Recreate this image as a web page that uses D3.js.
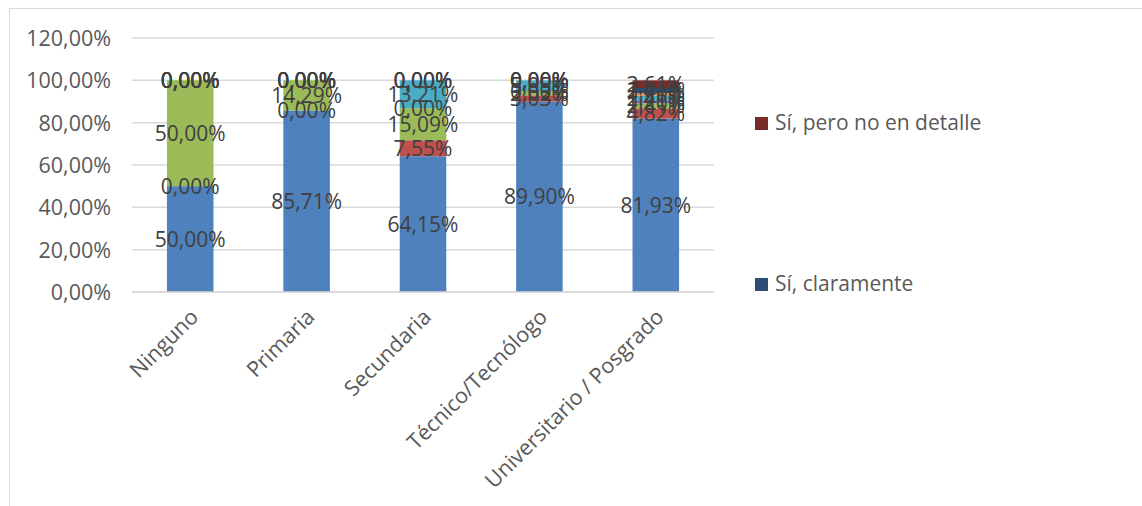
<!DOCTYPE html>
<html>
<head>
<meta charset="utf-8">
<script src="https://cdn.jsdelivr.net/npm/d3@7"></script>
<style>
  html, body { margin: 0; padding: 0; background: #ffffff; }
  svg { display: block; font-family: "Open Sans", "Noto Sans", sans-serif; }
</style>
</head>
<body>
<svg id="chart" width="1142" height="506"></svg>
<script>
// ---- data (percent) ----
const categories = ["Ninguno", "Primaria", "Secundaria", "Técnico/Tecnólogo", "Universitario / Posgrado"];
const serie1 = [50.00, 85.71, 64.15, 89.90, 81.93];
const serie2 = [0.00, 0.00, 7.55, 3.03, 4.82];
const serie3 = [50.00, 14.29, 15.09, 2.02, 2.41];
const serie4 = [0.00, 0.00, 0.00, 0.00, 1.20];
const serie5 = [0.00, 0.00, 13.21, 5.05, 2.41];
const serie6 = [0.00, 0.00, 0.00, 0.00, 1.20];
const siClaramente = [0.00, 0.00, 0.00, 0.00, 2.41];
const siPeroNoDetalle = [0.00, 0.00, 0.00, 0.00, 3.61];
const yTicks = [0, 20, 40, 60, 80, 100, 120];
const legendNames = ["Sí, pero no en detalle", "Sí, claramente"];

const seriesKeys = ["s1", "s2", "s3", "s4", "s5", "s6", "Sí, claramente", "Sí, pero no en detalle"];
const seriesValues = [serie1, serie2, serie3, serie4, serie5, serie6, siClaramente, siPeroNoDetalle];
const colors = ["#4F81BD", "#C0504D", "#9BBB59", "#8064A2", "#4BACC6", "#F79646", "#2C4D75", "#772C2A"];
const legendColors = { "Sí, claramente": "#2C4D75", "Sí, pero no en detalle": "#772C2A" };

const table = categories.map((c, i) => {
  const row = { cat: c };
  seriesKeys.forEach((k, j) => row[k] = seriesValues[j][i]);
  return row;
});

const svg = d3.select("#chart");
const W = 1142, H = 506;

// chart border
svg.append("rect").attr("x", 9.5).attr("y", 8.5).attr("width", W + 20).attr("height", H + 20)
  .attr("fill", "#fff").attr("stroke", "#D9D9D9").attr("stroke-width", 1);

const x = d3.scaleBand().domain(categories).range([132, 714]).paddingInner(0.6).paddingOuter(0.3);
const y = d3.scaleLinear().domain([0, 120]).range([292, 38]);

const fmt = v => v.toFixed(2).replace(".", ",") + "%";

// gridlines
svg.append("g").selectAll("line").data(yTicks).join("line")
  .attr("x1", 132).attr("x2", 714)
  .attr("y1", d => y(d)).attr("y2", d => y(d))
  .attr("stroke", "#D9D9D9").attr("stroke-width", 1.5);

// y axis labels
const yAxis = d3.axisLeft(y).tickValues(yTicks).tickFormat(d => d.toFixed(2).replace(".", ",") + "%").tickSize(0).tickPadding(0);
const gy = svg.append("g").attr("transform", "translate(111,0)").call(yAxis);
gy.select(".domain").remove();
gy.selectAll("text").attr("fill", "#595959").style("font-size", "21.5px").style("font-family", "Open Sans").attr("dy", "0.35em");

// stacked bars
const stack = d3.stack().keys(seriesKeys);
const stacked = stack(table);

const gBars = svg.append("g");
stacked.forEach((layer, j) => {
  gBars.append("g").attr("fill", colors[j]).selectAll("rect").data(layer).join("rect")
    .attr("x", d => x(d.data.cat))
    .attr("width", x.bandwidth())
    .attr("y", d => y(d[1]))
    .attr("height", d => Math.max(0, y(d[0]) - y(d[1])));
});

// data labels
const gLab = svg.append("g");
stacked.forEach((layer, j) => {
  gLab.append("g").selectAll("text").data(layer).join("text")
    .attr("x", d => x(d.data.cat) + x.bandwidth() / 2)
    .attr("y", d => y((d[0] + d[1]) / 2))
    .attr("dy", "0.36em")
    .attr("text-anchor", "middle")
    .attr("fill", "#404040")
    .style("font-size", "21px")
    .text(d => fmt(d[1] - d[0]));
});

// x axis baseline
svg.append("line").attr("x1", 132).attr("x2", 714).attr("y1", y(0)).attr("y2", y(0))
  .attr("stroke", "#D9D9D9").attr("stroke-width", 1.5);

// x labels rotated
svg.append("g").selectAll("text").data(categories).join("text")
  .attr("transform", d => `translate(${x(d) + x.bandwidth() / 2 + 4},${313}) rotate(-45)`)
  .attr("text-anchor", "end")
  .attr("dy", "0.35em")
  .attr("fill", "#595959")
  .style("font-size", "21.5px")
  .text(d => d);

// legend
const legendY = [123, 284];
const gLeg = svg.append("g");
legendNames.forEach((n, i) => {
  gLeg.append("rect").attr("x", 755).attr("y", legendY[i] - 6).attr("width", 13).attr("height", 13)
    .attr("fill", legendColors[n]);
  gLeg.append("text").attr("x", 775).attr("y", legendY[i]).attr("dy", "0.35em")
    .attr("fill", "#595959").style("font-size", "21px").text(n);
});
</script>
</body>
</html>
